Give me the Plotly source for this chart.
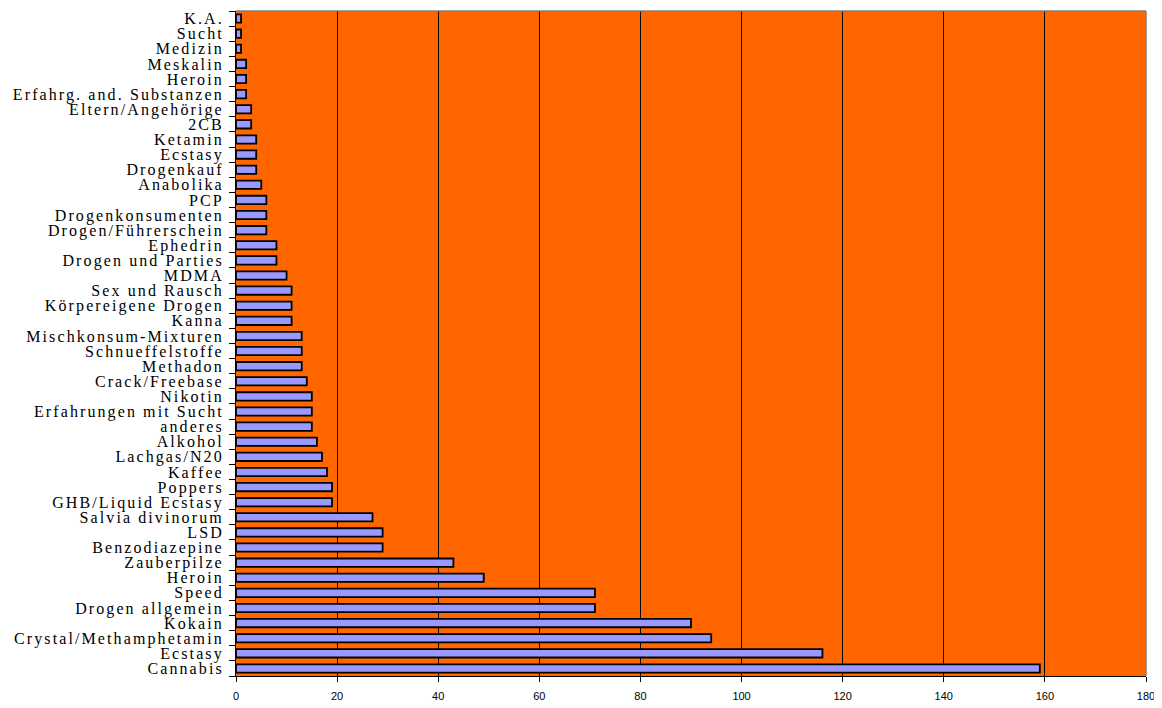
import plotly.graph_objects as go

categories = [
    "Cannabis", "Ecstasy", "Crystal/Methamphetamin", "Kokain", "Drogen allgemein",
    "Speed", "Heroin", "Zauberpilze", "Benzodiazepine", "LSD", "Salvia divinorum",
    "GHB/Liquid Ecstasy", "Poppers", "Kaffee", "Lachgas/N20", "Alkohol", "anderes",
    "Erfahrungen mit Sucht", "Nikotin", "Crack/Freebase", "Methadon",
    "Schnueffelstoffe", "Mischkonsum-Mixturen", "Kanna", "Körpereigene Drogen",
    "Sex und Rausch", "MDMA", "Drogen und Parties", "Ephedrin",
    "Drogen/Führerschein", "Drogenkonsumenten", "PCP", "Anabolika", "Drogenkauf",
    "Ecstasy", "Ketamin", "2CB", "Eltern/Angehörige", "Erfahrg. and. Substanzen",
    "Heroin", "Meskalin", "Medizin", "Sucht", "K.A.",
]
values = [
    159, 116, 94, 90, 71, 71, 49, 43, 29, 29, 27, 19, 19, 18, 17, 16, 15, 15, 15,
    14, 13, 13, 13, 11, 11, 11, 10, 8, 8, 6, 6, 6, 5, 4, 4, 4, 3, 3, 2, 2, 2, 1, 1, 1,
]
x_ticks = [0, 20, 40, 60, 80, 100, 120, 140, 160, 180]

positions = list(range(len(categories)))

fig = go.Figure(go.Bar(
    x=values,
    y=positions,
    orientation="h",
    width=0.55,
    marker=dict(color="#9999FF", line=dict(color="black", width=1.8)),
    hoverinfo="skip",
))

fig.update_layout(
    width=1162, height=708,
    margin=dict(l=228, r=24, t=3, b=40),
    paper_bgcolor="white",
    plot_bgcolor="#FF6600",
    showlegend=False,
)
fig.update_xaxes(
    range=[0, 180],
    tickvals=x_ticks,
    showgrid=True, gridcolor="black", gridwidth=1,
    zeroline=False,
    showline=True, linecolor="black", linewidth=1,
    ticks="outside", ticklen=5, tickcolor="black",
    tickfont=dict(family="Liberation Sans", size=11, color="black"),
    ticklabelstandoff=5,
)
fig.update_yaxes(
    range=[-0.5, len(categories) - 0.5],
    tickvals=positions,
    ticktext=categories,
    showgrid=False, zeroline=False,
    showline=True, linecolor="black", linewidth=1,
    ticks="",
    minor=dict(ticks="outside", tick0=0.5, dtick=1, ticklen=6, tickcolor="black", showgrid=False),
    tickfont=dict(family="Liberation Serif", size=16, color="black"),
    ticklabelstandoff=8,
)
fig.add_shape(type="line", xref="paper", yref="paper", x0=0, x1=1, y0=1, y1=1,
              line=dict(color="#808080", width=1.5))
fig.add_shape(type="line", xref="paper", yref="paper", x0=1, x1=1, y0=0, y1=1,
              line=dict(color="#808080", width=1.5))

post = """
document.querySelectorAll('.ytick text').forEach(function(t){
  t.style.letterSpacing = '2.1px';
});
"""
fig.write_html("out.html", post_script=post)
